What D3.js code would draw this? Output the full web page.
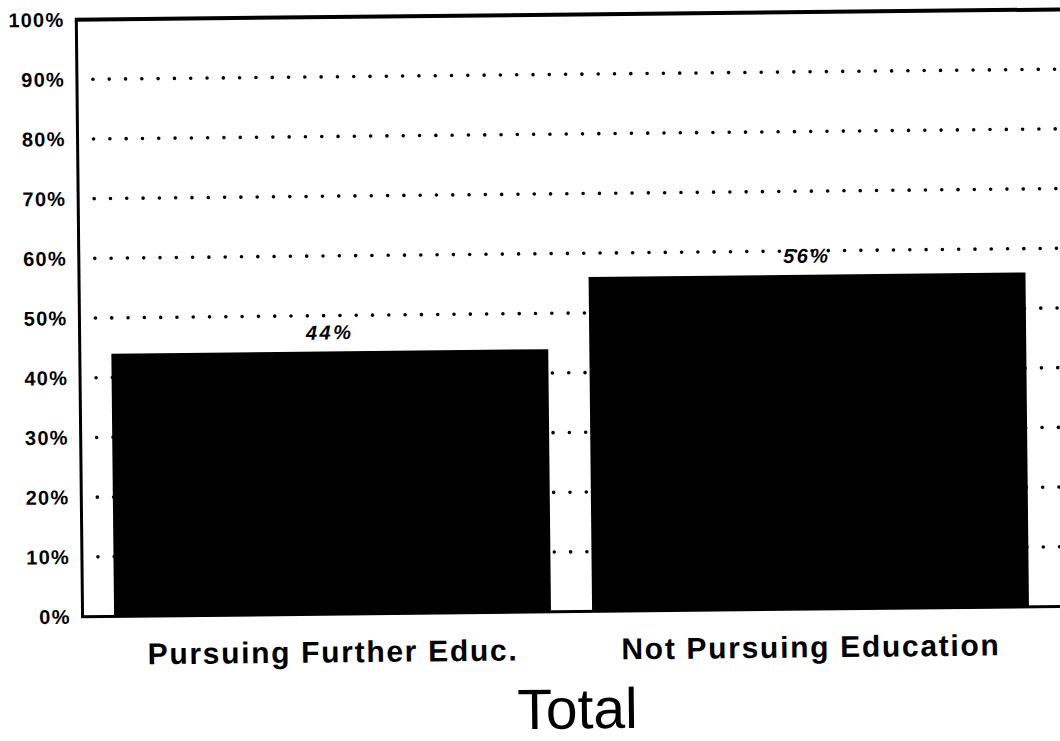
<!DOCTYPE html>
<html>
<head>
<meta charset="utf-8">
<script src="https://cdn.jsdelivr.net/npm/d3@7"></script>
<style>
  body { margin: 0; background: #fff; }
  text { font-family: Arial, "Liberation Sans", Helvetica, sans-serif; fill: #000; }
</style>
</head>
<body>
<div id="bar_chart"></div>
<script>
// data
var categories = ["Pursuing Further Educ.", "Not Pursuing Education"];
var values = [44, 56];
var yTicks = [0, 10, 20, 30, 40, 50, 60, 70, 80, 90, 100];
var title = "Total";

var margin = { top: 15, right: 2, bottom: 129, left: 80 },
  width = 1060 - margin.left - margin.right,
  height = 741 - margin.top - margin.bottom;

// the scan is tilted a little, so the whole drawing is turned slightly
var svg = d3.select("#bar_chart")
  .append("svg")
  .attr("width", width + margin.left + margin.right)
  .attr("height", height + margin.top + margin.bottom)
  .append("g")
  .attr("transform", "rotate(-0.6, 530, 370) translate(" + margin.left + "," + margin.top + ")");

var x = d3.scaleBand()
  .domain(categories)
  .range([0, width])
  .paddingInner(0.086)
  .paddingOuter(0.066);

var y = d3.scaleLinear()
  .domain([0, 100])
  .range([height, 0]);

// dotted gridlines
svg.append("g")
  .selectAll("line")
  .data(yTicks.filter(d => d > 0 && d < 100))
  .join("line")
  .attr("x1", 16)
  .attr("x2", width + margin.right + 10)
  .attr("y1", d => y(d))
  .attr("y2", d => y(d))
  .attr("stroke", "#000")
  .attr("stroke-width", 3.6)
  .attr("stroke-linecap", "round")
  .attr("stroke-dasharray", "0 16.3");

// bars
svg.append("g")
  .selectAll("rect")
  .data(values)
  .join("rect")
  .attr("x", (d, i) => x(categories[i]))
  .attr("y", d => y(d))
  .attr("width", x.bandwidth())
  .attr("height", d => y(0) - y(d))
  .attr("fill", "#000");

// value labels
svg.append("g")
  .selectAll("text")
  .data(values)
  .join("text")
  .attr("x", (d, i) => x(categories[i]) + x.bandwidth() / 2)
  .attr("y", d => y(d) - 12)
  .attr("text-anchor", "middle")
  .attr("font-size", 20)
  .attr("font-weight", "bold")
  .attr("font-style", "italic")
  .attr("letter-spacing", 2.5)
  .text(d => d + "%");

// frame: left, top, bottom
var frame = svg.append("g")
  .attr("stroke", "#000")
  .attr("fill", "none");
frame.append("line")
  .attr("x1", 0).attr("x2", 0)
  .attr("y1", y(100)).attr("y2", y(0))
  .attr("stroke-width", 3);
frame.append("line")
  .attr("x1", -1.5).attr("x2", width + margin.right + 10)
  .attr("y1", y(100)).attr("y2", y(100))
  .attr("stroke-width", 4);
frame.append("line")
  .attr("x1", -1.5).attr("x2", width + margin.right + 10)
  .attr("y1", y(0)).attr("y2", y(0))
  .attr("stroke-width", 3);

// y axis labels
var yAxis = g => g
  .call(d3.axisLeft(y).tickValues(yTicks).tickFormat(d => d + "%").tickSize(0).tickPadding(12))
  .call(g => g.select(".domain").remove())
  .call(g => g.selectAll("text")
    .attr("font-size", 20)
    .attr("font-weight", "bold")
    .attr("letter-spacing", 1.2)
    .attr("font-family", "Arial, 'Liberation Sans', sans-serif"));

svg.append("g")
  .call(yAxis);

// category labels
var xAxis = g => g
  .attr("transform", "translate(0," + height + ")")
  .call(d3.axisBottom(x).tickSize(0).tickPadding(27))
  .call(g => g.select(".domain").remove())
  .call(g => g.selectAll("text")
    .attr("font-size", 30)
    .attr("font-weight", "bold")
    .attr("letter-spacing", 1.7)
    .attr("font-family", "Arial, 'Liberation Sans', sans-serif"));

svg.append("g")
  .call(xAxis);

// title
svg.append("text")
  .attr("x", 494)
  .attr("y", height + 117)
  .attr("text-anchor", "middle")
  .attr("font-size", 57)
  .text(title);
</script>
</body>
</html>
